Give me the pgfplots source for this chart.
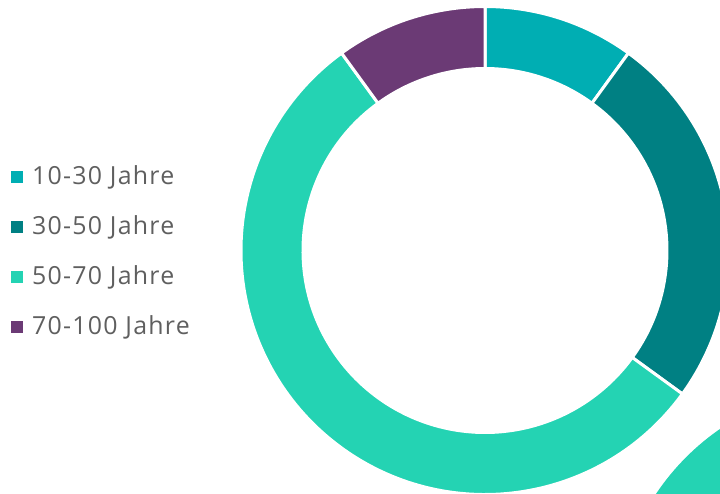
\documentclass[border=0pt]{standalone}
\usepackage{pgfplots}
\pgfplotsset{compat=1.18}
\usepackage{pgfplotstable}
\usepackage{fontspec}
\setmainfont{Open Sans}
\newfontfamily\legfont[LetterSpace=5]{Open Sans}

\definecolor{c0}{HTML}{00AEB3}
\definecolor{c1}{HTML}{008083}
\definecolor{c2}{HTML}{24D3B3}
\definecolor{c3}{HTML}{6B3A75}
\definecolor{txt}{HTML}{5F5F5F}

\pgfplotstableread[col sep=comma]{
label,value
10-30 Jahre,10
30-50 Jahre,25
50-70 Jahre,55
70-100 Jahre,10
}\agedata

\tikzset{leg/.style={anchor=base west, inner sep=0pt, text=txt, font=\legfont\fontsize{25}{30}\selectfont}}

\begin{document}
\begin{tikzpicture}
\path[use as bounding box] (0,0) rectangle (720bp,494bp);
\clip (0,0) rectangle (720bp,494bp);
\begin{axis}[
  at={(0,0)}, anchor=south west,
  scale only axis, width=720bp, height=494bp,
  xmin=0, xmax=720, ymin=0, ymax=494,
  hide axis, clip=false,
]
% partial shape at the lower right corner
\fill[c2] (axis cs:858,-135) circle[radius=243bp];
\def\cum{0}
\pgfplotsforeachungrouped \i in {0,...,3}{%
  \pgfplotstablegetelem{\i}{value}\of\agedata
  \let\v\pgfplotsretval
  \pgfmathsetmacro\a{90-3.6*\cum}%
  \pgfmathsetmacro\cum{\cum+\v}%
  \pgfmathsetmacro\b{90-3.6*\cum}%
  \pgfmathsetmacro\sylo{494-183-50*\i}%
  \pgfmathsetmacro\syhi{494-171-50*\i}%
  \pgfmathsetmacro\ly{494-184-50*\i}%
  \pgfplotstablegetelem{\i}{label}\of\agedata
  \let\lab\pgfplotsretval
  \edef\temp{%
    \noexpand\fill[c\i, draw=white, line width=3bp] (axis cs:485,243.5) ++(\a:244bp)
      arc[start angle=\a, end angle=\b, radius=244bp] -- ++(\b:-62bp)
      arc[start angle=\b, end angle=\a, radius=182bp] -- cycle;
    \noexpand\fill[c\i] (axis cs:11,\sylo) rectangle (axis cs:23,\syhi);
    \noexpand\node[leg] at (axis cs:32,\ly) {\lab};
  }\temp
}
\end{axis}
\end{tikzpicture}
\end{document}
